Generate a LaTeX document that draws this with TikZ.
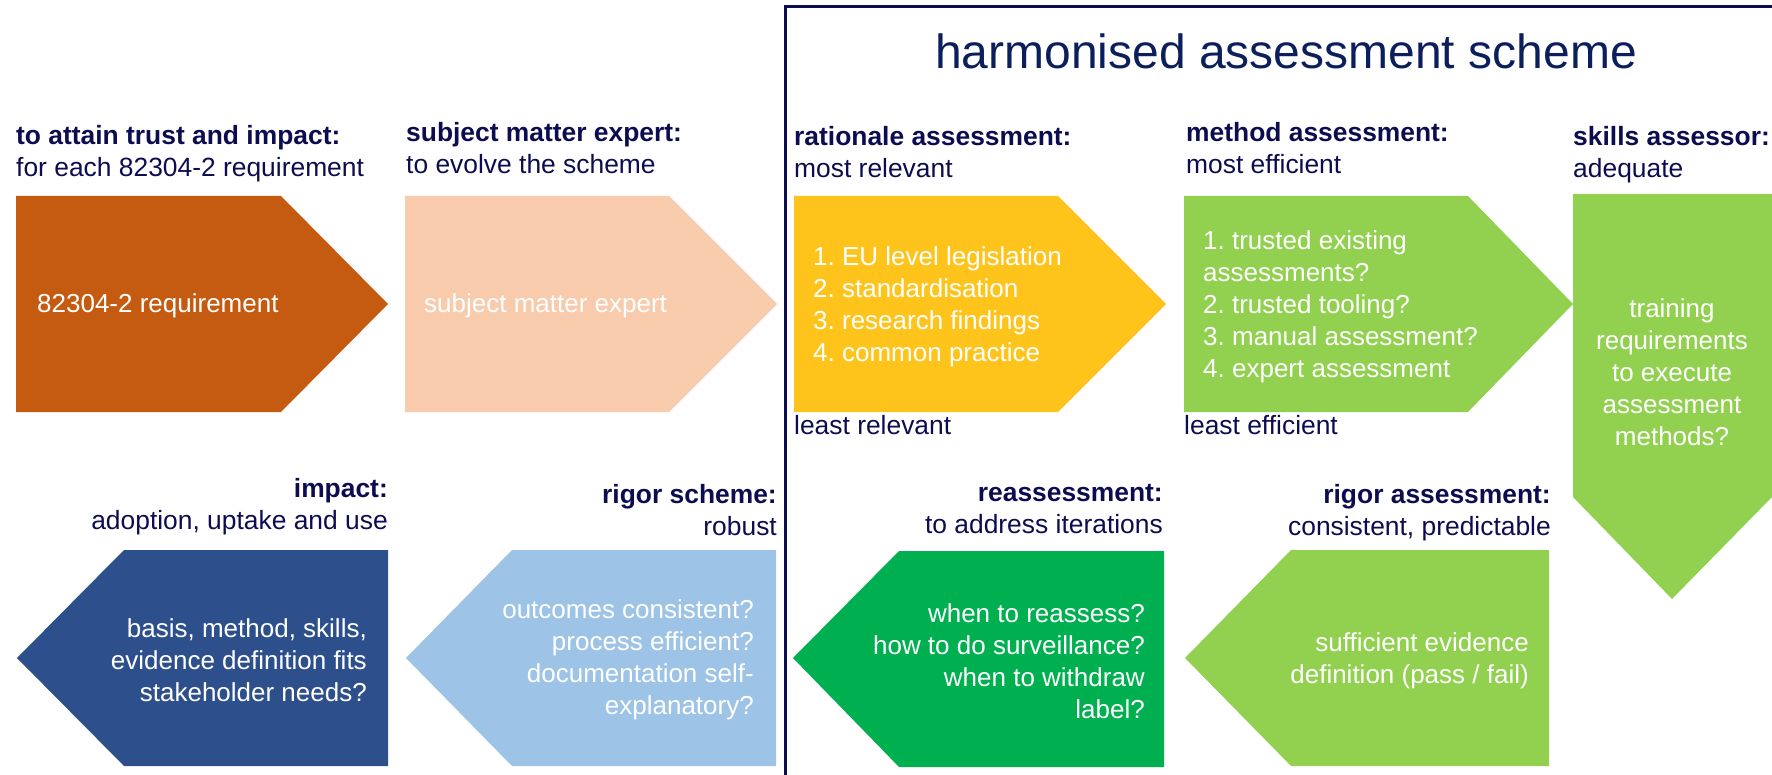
\documentclass[tikz,border=0pt]{standalone}
\usepackage{fontspec}
\setmainfont{Liberation Sans}
\frenchspacing
\definecolor{cOrange}{HTML}{C55A11}
\definecolor{cPeach}{HTML}{F8CBAD}
\definecolor{cYellow}{HTML}{FFC41C}
\definecolor{cLGreen}{HTML}{92D050}
\definecolor{cDBlue}{HTML}{2D508C}
\definecolor{cLBlue}{HTML}{9DC3E6}
\definecolor{cDGreen}{HTML}{00B050}
\definecolor{cNavy}{HTML}{0C0C50}
\definecolor{cTitle}{HTML}{0A1F5C}
\begin{document}
\begin{tikzpicture}[x=1pt,y=-1pt,
  hdr/.style={font=\fontsize{26.4pt}{32pt}\selectfont, text=cNavy, inner sep=0pt, align=left, anchor=north west},
  hdrr/.style={font=\fontsize{26.4pt}{32pt}\selectfont, text=cNavy, inner sep=0pt, align=right, anchor=north east},
  intxt/.style={font=\fontsize{26pt}{32pt}\selectfont, text=white, inner sep=0pt},
  frameline/.style={draw=cNavy, line width=3pt}]
\useasboundingbox (0,0) rectangle (1772,775);
% frame
\draw[frameline] (785,775) -- (785,6.5) -- (1775,6.5);
\node[font=\fontsize{48pt}{56pt}\selectfont, text=cTitle, inner sep=0pt] (title) at (1286,51) {harmonised assessment scheme};
% top row shapes
\fill[cOrange] (16,196) -- (281,196) -- (388,304) -- (281,412) -- (16,412) -- cycle;
\fill[cPeach] (405,196) -- (669,196) -- (777,304) -- (669,412) -- (405,412) -- cycle;
\fill[cYellow] (794,196) -- (1058,196) -- (1166,304) -- (1058,412) -- (794,412) -- cycle;
\fill[cLGreen] (1184,196) -- (1468,196) -- (1573,304) -- (1468,412) -- (1184,412) -- cycle;
\fill[cLGreen] (1573,194) -- (1772,194) -- (1772,497) -- (1672,599) -- (1573,497) -- cycle;
% bottom row shapes
\fill[cDBlue] (17,658) -- (124,550) -- (388,550) -- (388,766) -- (124,766) -- cycle;
\fill[cLBlue] (406,658) -- (512,550) -- (776,550) -- (776,766) -- (512,766) -- cycle;
\fill[cDGreen] (793,658) -- (899,551) -- (1164,551) -- (1164,767) -- (899,767) -- cycle;
\fill[cLGreen] (1185,658) -- (1291,550) -- (1549,550) -- (1549,766) -- (1291,766) -- cycle;
% top headers
\node[hdr] (h1) at (16,125) {\textbf{to attain trust and impact:}\\for each 82304-2 requirement};
\node[hdr] (h2) at (406,122) {\textbf{subject matter expert:}\\to evolve the scheme};
\node[hdr] (h3) at (794,126) {\textbf{rationale assessment:}\\most relevant};
\node[hdr] (h4) at (1186,122) {\textbf{method assessment:}\\most efficient};
\node[hdr] (h5) at (1573,126) {\textbf{skills assessor:}\\adequate};
\node[hdr] (l3) at (794,415) {least relevant};
\node[hdr] (l4) at (1184,415) {least efficient};
% top texts
\node[intxt, anchor=west] (t1) at (37,306) {82304-2 requirement};
\node[intxt, anchor=west] (t2) at (424,306) {subject matter expert};
\node[intxt, anchor=west, align=left] (t3) at (813,307) {1. EU level legislation\\2. standardisation\\3. research findings\\4. common practice};
\node[intxt, anchor=west, align=left] (t4) at (1203,307) {1. trusted existing\\assessments?\\2. trusted tooling?\\3. manual assessment?\\4. expert assessment};
\node[intxt, align=center] (t5) at (1672,372) {training\\requirements\\to execute\\assessment\\methods?};
% bottom headers
\node[hdrr] (b1) at (388,478) {\textbf{impact:}\\adoption, uptake and use};
\node[hdrr] (b2) at (777,484) {\textbf{rigor scheme:}\\robust};
\node[hdrr] (b3) at (1163,484) {\textbf{reassessment:}\\to address iterations};
\node[hdrr] (b4) at (1551,484) {\textbf{rigor assessment:}\\consistent, predictable};
% bottom texts
\node[intxt, anchor=east, align=right] (u1) at (367,660) {basis, method, skills,\\evidence definition fits\\stakeholder needs?};
\node[intxt, anchor=east, align=right] (u2) at (754,660) {outcomes consistent?\\process efficient?\\documentation self-\\explanatory?};
\node[intxt, anchor=east, align=right] (u3) at (1145,661) {when to reassess?\\how to do surveillance?\\when to withdraw\\label?};
\node[intxt, anchor=east, align=right] (u4) at (1529,661) {sufficient evidence\\definition (pass / fail)};
\end{tikzpicture}
\end{document}
